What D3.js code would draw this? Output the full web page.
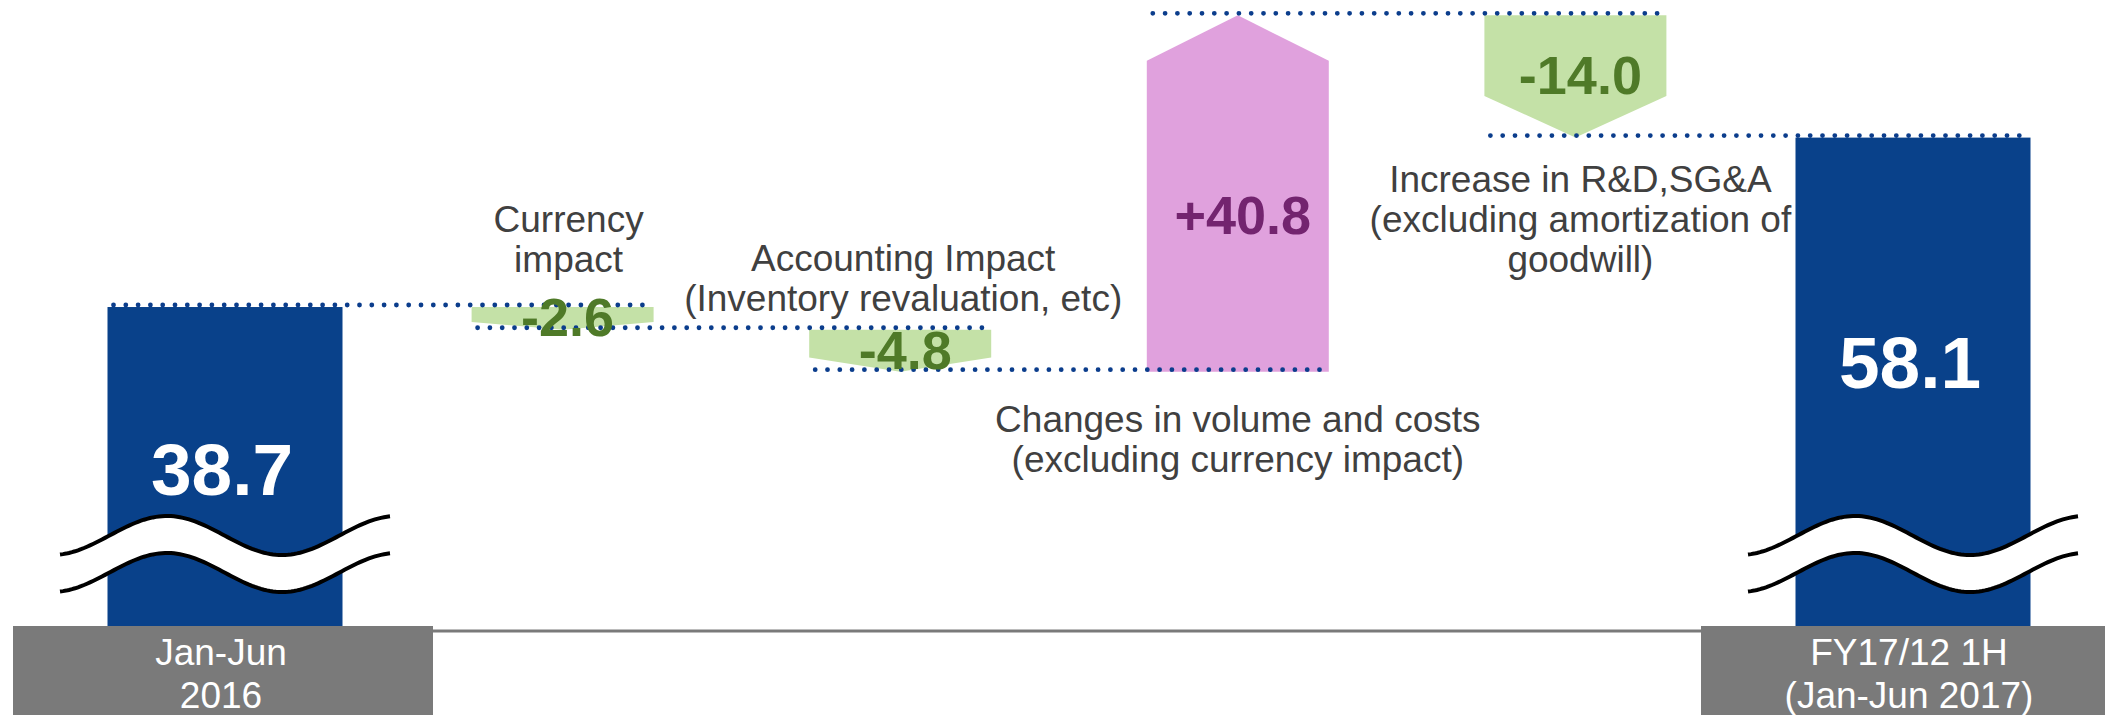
<!DOCTYPE html>
<html>
<head>
<meta charset="utf-8">
<script src="https://cdn.jsdelivr.net/npm/d3@7"></script>
<style>
  html, body { margin: 0; padding: 0; background: #fff; }
  svg { display: block; font-family: Arial, 'Liberation Sans', sans-serif; }
</style>
</head>
<body>
<div id="chart"></div>
<script>
/* ── data ── */
const categories = ['Jan-Jun 2016', 'Currency impact', 'Accounting Impact', 'Changes in volume and costs', 'Increase in R&D,SG&A', 'FY17/12 1H'];
const kinds = ['total', 'delta', 'delta', 'delta', 'delta', 'total'];
const values = [38.7, -2.6, -4.8, 40.8, -14.0, 58.1];
const valueLabels = ['38.7', '-2.6', '-4.8', '+40.8', '-14.0', '58.1'];
const boxLabels = [['Jan-Jun', '2016'], null, null, null, null, ['FY17/12 1H', '(Jan-Jun 2017)']];
const notes = [
  null,
  ['Currency', 'impact'],
  ['Accounting Impact', '(Inventory revaluation, etc)'],
  ['Changes in volume and costs', '(excluding currency impact)'],
  ['Increase in R&D,SG&A', '(excluding amortization of', 'goodwill)'],
  null
];

/* ── setup ── */
const W = 2105, H = 715;
const cfg = {
  totalW: 235, deltaW: 182, boxW: 420,
  baseY: 628,
  blue: '#09418a', dot: '#0b3d8c',
  green: '#c4e1a7', greenText: '#4f7a28',
  pink: '#e0a1dd', purpleText: '#73246f',
  grey: '#7a7a7a', text: '#404040',
  fontBig: 73, fontVal: 54, fontNote: 37
};

const svg = d3.select('#chart').append('svg')
  .attr('width', W).attr('height', H);

// running totals
let run = 0;
const steps = values.map((v, i) => {
  const total = kinds[i] === 'total';
  const start = total ? 0 : run;
  const end = total ? v : run + v;
  run = end;
  return { cat: categories[i], i, v, total, start, end };
});

const x = d3.scalePoint().domain(categories).range([225, 1913]);
const y = d3.scaleLinear().domain([30, 75]).range([383, -10]);
const half = d => (d.total ? cfg.totalW : cfg.deltaW) / 2;

/* ── baseline ── */
const boxed = steps.filter(d => boxLabels[d.i]);
svg.append('line')
  .attr('x1', x(boxed[0].cat) + cfg.boxW / 2 - 5)
  .attr('x2', x(boxed[1].cat) - cfg.boxW / 2)
  .attr('y1', cfg.baseY + 3).attr('y2', cfg.baseY + 3)
  .attr('stroke', cfg.grey).attr('stroke-width', 3);

/* ── total bars ── */
svg.selectAll('rect.total')
  .data(steps.filter(d => d.total))
  .join('rect')
  .attr('class', 'total')
  .attr('x', d => x(d.cat) - half(d))
  .attr('y', d => y(d.end))
  .attr('width', cfg.totalW)
  .attr('height', d => cfg.baseY - y(d.end))
  .attr('fill', cfg.blue);

/* ── delta arrows ── */
function arrowPoints(d) {
  const x0 = x(d.cat) - half(d), x1 = x(d.cat) + half(d), xc = x(d.cat);
  const ya = y(d.start), yb = y(d.end);
  const len = Math.abs(yb - ya);
  const head = Math.min(0.34 * len, 0.25 * cfg.deltaW);
  if (d.v < 0) {
    return [[x0, ya], [x1, ya], [x1, yb - head], [xc, yb], [x0, yb - head]];
  }
  return [[x0, ya], [x1, ya], [x1, yb + head], [xc, yb], [x0, yb + head]];
}
svg.selectAll('polygon.delta')
  .data(steps.filter(d => !d.total))
  .join('polygon')
  .attr('class', 'delta')
  .attr('points', d => arrowPoints(d).map(p => p.join(',')).join(' '))
  .attr('fill', d => d.v < 0 ? cfg.green : cfg.pink);

/* ── dotted connectors ── */
svg.selectAll('line.link')
  .data(d3.pairs(steps))
  .join('line')
  .attr('class', 'link')
  .attr('x1', ([a]) => x(a.cat) - half(a) + 6)
  .attr('x2', ([, b]) => x(b.cat) + half(b))
  .attr('y1', ([a]) => y(a.end) - 2)
  .attr('y2', ([a]) => y(a.end) - 2)
  .attr('stroke', cfg.dot)
  .attr('stroke-width', 4.8)
  .attr('stroke-linecap', 'round')
  .attr('stroke-dasharray', '0 12.3');

/* ── axis break waves ── */
const waveW = 330, waveA = 19.5, waveGap = 37, waveTop = 516;
function wave(cx, y0) {
  return d3.range(0, waveW + 0.1, 3).map(t =>
    [cx - waveW / 2 + t, y0 + waveA - waveA * Math.cos(2 * Math.PI * (t - 107) / 230)]);
}
const lineGen = d3.line();
steps.filter(d => d.total).forEach(d => {
  const up = wave(x(d.cat), waveTop);
  const low = wave(x(d.cat), waveTop + waveGap);
  svg.append('path')
    .attr('d', lineGen(up.concat(low.slice().reverse())) + 'Z')
    .attr('fill', '#fff');
  [up, low].forEach(pts => svg.append('path')
    .attr('d', lineGen(pts))
    .attr('fill', 'none')
    .attr('stroke', '#000')
    .attr('stroke-width', 4));
});

/* ── category boxes ── */
boxed.forEach(d => {
  svg.append('rect')
    .attr('x', x(d.cat) - cfg.boxW / 2 - 2)
    .attr('y', cfg.baseY - 2)
    .attr('width', cfg.boxW)
    .attr('height', H - cfg.baseY + 2)
    .attr('fill', cfg.grey);
  svg.append('text')
    .attr('text-anchor', 'middle')
    .attr('fill', '#fff')
    .attr('font-size', cfg.fontNote)
    .selectAll('tspan')
    .data(boxLabels[d.i])
    .join('tspan')
    .attr('x', x(d.cat) - 4)
    .attr('y', (t, k) => cfg.baseY + 37 + k * 43)
    .text(t => t);
});

/* ── value labels ── */
const totalDrop = { 0: 188, 5: 250 };
svg.selectAll('text.val')
  .data(steps)
  .join('text')
  .attr('class', 'val')
  .attr('text-anchor', 'middle')
  .attr('font-weight', 'bold')
  .attr('font-size', d => d.total ? cfg.fontBig : cfg.fontVal)
  .attr('fill', d => d.total ? '#fff' : (d.v < 0 ? cfg.greenText : cfg.purpleText))
  .attr('x', d => x(d.cat) + (d.total ? -3 : 5))
  .attr('y', d => {
    if (d.total) return y(d.end) + totalDrop[d.i];
    const ya = y(d.start), yb = y(d.end);
    const mid = d.v > 0 ? (ya + yb + cfg.deltaW * 0.25) / 2 : (ya + yb) / 2;
    return mid + cfg.fontVal * 0.33;
  })
  .text(d => valueLabels[d.i]);

/* ── notes ── */
const notePlace = {
  1: { side: 'above', gap: 35, dx: 6 },
  2: { side: 'above', gap: 19, dx: 3 },
  3: { side: 'below', gap: 60, dx: 0 },
  4: { side: 'below', gap: 54, dx: 5 }
};
const lh = 40;
steps.filter(d => notes[d.i]).forEach(d => {
  const lines = notes[d.i];
  const p = notePlace[d.i];
  const top = Math.min(y(d.start), y(d.end));
  const bot = Math.max(y(d.start), y(d.end));
  const firstBase = p.side === 'above'
    ? top - p.gap - (lines.length - 1) * lh
    : bot + p.gap;
  svg.append('text')
    .attr('text-anchor', 'middle')
    .attr('fill', cfg.text)
    .attr('font-size', cfg.fontNote)
    .selectAll('tspan')
    .data(lines)
    .join('tspan')
    .attr('x', x(d.cat) + p.dx)
    .attr('y', (t, k) => firstBase + k * lh)
    .text(t => t);
});
</script>
</body>
</html>
